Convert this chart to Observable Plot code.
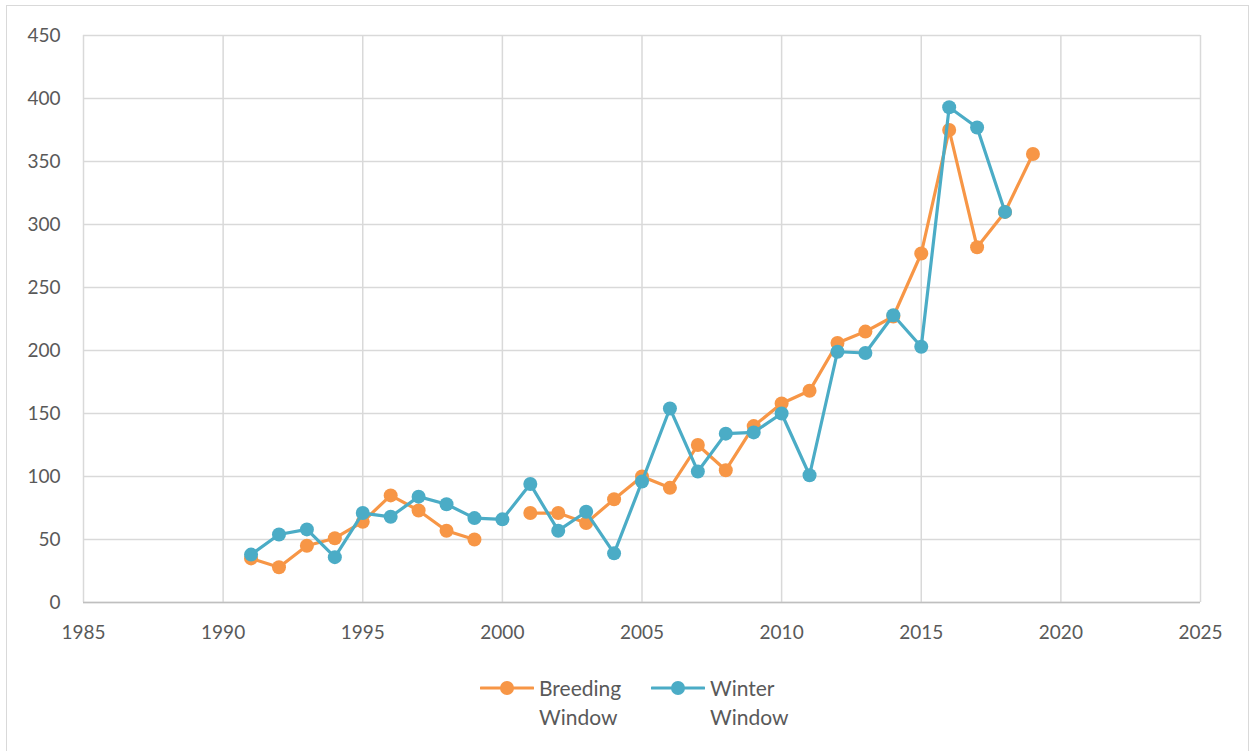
<!DOCTYPE html>
<html>
<head>
<meta charset="utf-8">
<script src="https://cdn.jsdelivr.net/npm/d3@7"></script>
<script src="https://cdn.jsdelivr.net/npm/@observablehq/plot@0.6"></script>
<style>
  html, body { margin: 0; padding: 0; background: #fff; }
  body { width: 1252px; height: 751px; position: relative; overflow: hidden; font-family: Lato, "Open Sans", sans-serif; }
  #frame { position: absolute; left: 6px; top: 5px; width: 1243px; height: 760px; border: 1px solid #d9d9d9; box-sizing: border-box; }
  #chart { position: absolute; left: 0; top: 0; }
  .leg { position: absolute; top: 673px; display: flex; align-items: flex-start; color: #595959; font-size: 21px; line-height: 29px; }
  .leg svg { margin-top: 4px; margin-right: 5px; }
</style>
</head>
<body>
<div id="frame"></div>
<div id="chart"></div>
<div class="leg" style="left:480px">
  <svg width="54" height="22"><line x1="1" y1="11" x2="53" y2="11" stroke="#F79646" stroke-width="3" stroke-linecap="round"/><circle cx="27" cy="11" r="7" fill="#F79646"/></svg>
  <div>Breeding<br>Window</div>
</div>
<div class="leg" style="left:651px">
  <svg width="54" height="22"><line x1="1" y1="11" x2="53" y2="11" stroke="#4BACC6" stroke-width="3" stroke-linecap="round"/><circle cx="27" cy="11" r="7" fill="#4BACC6"/></svg>
  <div>Winter<br>Window</div>
</div>
<script>
const years = [1991,1992,1993,1994,1995,1996,1997,1998,1999,2000,2001,2002,2003,2004,2005,2006,2007,2008,2009,2010,2011,2012,2013,2014,2015,2016,2017,2018,2019];
const breeding = [35,28,45,51,64,85,73,57,50,null,71,71,63,82,100,91,125,105,140,158,168,206,215,227,277,375,282,310,356];
const winter = [38,54,58,36,71,68,84,78,67,66,94,57,72,39,96,154,104,134,135,150,101,199,198,228,203,393,377,310,null];
const seriesNames = ["Breeding Window", "Winter Window"];
const seriesColors = ["#F79646", "#4BACC6"];
const xTicks = [1985,1990,1995,2000,2005,2010,2015,2020,2025];
const yTicks = [0,50,100,150,200,250,300,350,400,450];

const bData = years.map((y, i) => ({year: y, value: breeding[i]}));
const wData = years.map((y, i) => ({year: y, value: winter[i]}));

const chart = Plot.plot({
  width: 1252,
  height: 660,
  marginLeft: 83,
  marginRight: 52,
  marginTop: 35,
  marginBottom: 58,
  style: {fontFamily: "Lato, 'Open Sans', sans-serif", fontSize: "19px", color: "#595959", background: "transparent"},
  x: {domain: [1985, 2025], ticks: xTicks, tickFormat: d => String(d)},
  y: {domain: [0, 450], ticks: yTicks},
  marks: [
    Plot.gridX(xTicks, {stroke: "#d9d9d9", strokeOpacity: 1, strokeWidth: 1.5}),
    Plot.gridY(yTicks, {stroke: "#d9d9d9", strokeOpacity: 1, strokeWidth: 1.5}),
    Plot.ruleY([0], {stroke: "#bfbfbf", strokeWidth: 1.5}),
    Plot.axisX(xTicks, {tickSize: 0, tickPadding: 23, label: null, fill: "#595959", tickFormat: d => String(d)}),
    Plot.axisY(yTicks, {tickSize: 0, tickPadding: 23, label: null, fill: "#595959"}),
    Plot.line(bData, {x: "year", y: "value", stroke: seriesColors[0], strokeWidth: 3.2}),
    Plot.dot(bData, {x: "year", y: "value", r: 7, fill: seriesColors[0]}),
    Plot.line(wData, {x: "year", y: "value", stroke: seriesColors[1], strokeWidth: 3.2}),
    Plot.dot(wData, {x: "year", y: "value", r: 7, fill: seriesColors[1]})
  ]
});
document.getElementById("chart").appendChild(chart);
</script>
</body>
</html>
